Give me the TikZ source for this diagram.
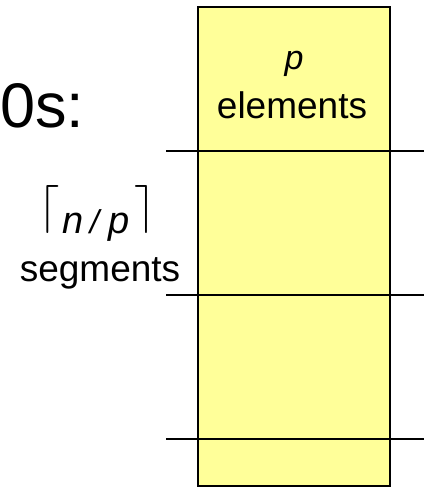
\documentclass[tikz,border=0pt]{standalone}
\usepackage{fix-cm}
\usepackage{fontspec}
\setmainfont{Liberation Sans}
\usepackage{tikz}
\usetikzlibrary{positioning}

\definecolor{paleyellow}{HTML}{FFFF99}

\begin{document}
\begin{tikzpicture}[
    x=1pt, y=-1pt,
    colbox/.style={draw, line width=2pt, fill=paleyellow, minimum width=192pt, minimum height=479pt, inner sep=0pt},
    sepline/.style={line width=1.6pt},
    lbl/.style={inner sep=0pt, anchor=base, align=center},
    big/.style={font=\fontsize{63}{70}\selectfont},
    mid/.style={font=\fontsize{37}{42}\selectfont},
  ]
    \useasboundingbox (0,0) rectangle (424,488);
    \node[colbox] (col) at (294,246.5) {};
    \foreach \y in {151,295,439}
      \draw[sepline] (166,\y) -- (424,\y);
    \node[lbl, big, anchor=base west] (zeros) at (0,127) {0s:};
    \node[lbl, font=\fontsize{34}{40}\selectfont] (pp) at (294,69) {\textit{p}};
    \node[lbl, mid] (elems) at (292,118) {elements};
    \node[lbl, font=\fontsize{38}{42}\selectfont] (ceil) at (97,233)
      {{\fontsize{48}{50}\selectfont\raisebox{12pt}{$\lceil$}}\hspace{3pt}\textit{n}\hspace{6pt}{\fontsize{33}{36}\selectfont\textit{/}}\hspace{6pt}\textit{p}\hspace{5pt}{\fontsize{48}{50}\selectfont\raisebox{12pt}{$\rceil$}}};
    \node[lbl, mid] (segs) at (100,281) {segments};
  \end{tikzpicture}
\end{document}
